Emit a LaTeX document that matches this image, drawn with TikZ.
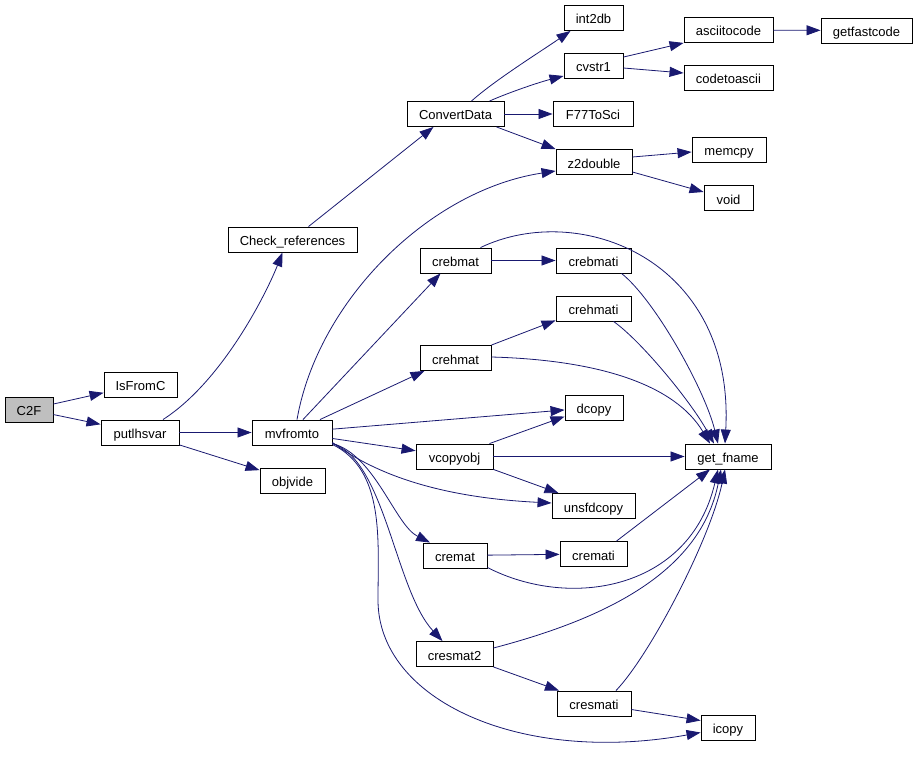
\documentclass[tikz,border=0pt]{standalone}
\usepackage{fontspec}
\setmainfont{Liberation Sans}
\usetikzlibrary{arrows.meta}
\definecolor{edgeblue}{HTML}{191970}

\begin{document}
\begin{tikzpicture}[
  x=1pt, y=-1pt,
  font=\fontsize{13}{15}\selectfont,
  box/.style={draw, line width=0.9pt, inner sep=0pt, minimum height=25pt, text height=12pt, text depth=0pt},
  rbox/.style={box, fill=black!25},
  arrow/.style={-{Triangle[length=14pt,width=10pt]}, color=edgeblue, line width=0.8pt}
]
\useasboundingbox (0,0) rectangle (917,762);

% Nodes (functions), left column
\node[rbox, minimum width=48] (C2F) at (29,409.5) {C2F};
\node[box, minimum width=73] (IsFromC) at (140.5,384.5) {IsFromC};
\node[box, minimum width=78] (putlhsvar) at (140,432.5) {putlhsvar};
\node[box, minimum width=129] (Check_references) at (292.5,239.5) {Check\_references};
\node[box, minimum width=80] (mvfromto) at (292,432.5) {mvfromto};
\node[box, minimum width=65] (objvide) at (292.5,480.5) {objvide};

% Nodes, middle column
\node[box, minimum width=97] (ConvertData) at (455.5,114) {ConvertData};
\node[box, minimum width=71] (crebmat) at (455.5,260.5) {crebmat};
\node[box, minimum width=71] (crehmat) at (455.5,358) {crehmat};
\node[box, minimum width=77] (vcopyobj) at (454.5,456.5) {vcopyobj};
\node[box, minimum width=64] (cremat) at (455,555.5) {cremat};
\node[box, minimum width=77] (cresmat2) at (454.5,654) {cresmat2};

% Nodes, callees
\node[box, minimum width=59] (int2db) at (593.5,18) {int2db};
\node[box, minimum width=59] (cvstr1) at (593.5,66) {cvstr1};
\node[box, minimum width=80] (F77ToSci) at (593,114) {F77ToSci};
\node[box, minimum width=76] (z2double) at (594,162) {z2double};
\node[box, minimum width=75] (crebmati) at (593.5,260.5) {crebmati};
\node[box, minimum width=75] (crehmati) at (593.5,308.5) {crehmati};
\node[box, minimum width=58] (dcopy) at (594,407.5) {dcopy};
\node[box, minimum width=83] (unsfdcopy) at (593.5,506) {unsfdcopy};
\node[box, minimum width=67] (cremati) at (593.5,554) {cremati};
\node[box, minimum width=74] (cresmati) at (594,703.5) {cresmati};

% Nodes, right column
\node[box, minimum width=89] (asciitocode) at (728.5,30) {asciitocode};
\node[box, minimum width=89] (codetoascii) at (728.5,78) {codetoascii};
\node[box, minimum width=74] (memcpy) at (729,150) {memcpy};
\node[box, minimum width=49] (void) at (728.5,198) {void};
\node[box, minimum width=86] (get_fname) at (728,456.5) {get\_fname};
\node[box, minimum width=54] (icopy) at (728,727.5) {icopy};
\node[box, minimum width=91] (getfastcode) at (866.5,30.5) {getfastcode};

% Calls of C2F and putlhsvar
\draw[arrow] (C2F) -- (IsFromC);
\draw[arrow] (C2F) -- (putlhsvar);
\draw[arrow] ([xshift=23]putlhsvar.north) .. controls (223,381) and (267,292) .. ([xshift=-10]Check_references.south);
\draw[arrow] (putlhsvar) -- (mvfromto);
\draw[arrow] (putlhsvar) -- (objvide);
\draw[arrow] ([xshift=16]Check_references.north) -- ([xshift=-22]ConvertData.south);

% ConvertData branch
\draw[arrow] ([xshift=16]ConvertData.north) .. controls (495,80) and (540,52) .. ([xshift=-23]int2db.south);
\draw[arrow] ([xshift=34]ConvertData.north) .. controls (510,92) and (540,82) .. ([yshift=-10]cvstr1.west);
\draw[arrow] (ConvertData) -- (F77ToSci);
\draw[arrow] ([xshift=41]ConvertData.south) -- (z2double.north west);
\draw[arrow] ([yshift=-4]cvstr1.north east) -- (asciitocode.south west);
\draw[arrow] ([yshift=-2]cvstr1.east) -- ([yshift=5]codetoascii.west);
\draw[arrow] (asciitocode) -- (getfastcode);
\draw[arrow] ([yshift=5]z2double.east) -- ([yshift=-2]memcpy.west);
\draw[arrow] ([yshift=-10]z2double.east) -- ([yshift=6]void.west);

% mvfromto branch
\draw[arrow] ([xshift=5]mvfromto.north) .. controls (318,300) and (430,190) .. ([yshift=-9]z2double.west);
\draw[arrow] ([xshift=11]mvfromto.north) -- ([xshift=-15]crebmat.south);
\draw[arrow] ([xshift=28]mvfromto.north) -- ([xshift=-31]crehmat.south);
\draw[arrow] (mvfromto) -- (dcopy);
\draw[arrow] (mvfromto) -- (vcopyobj);
\draw[arrow] ([yshift=-10]mvfromto.east) .. controls (370,470) and (430,497) .. ([yshift=3]unsfdcopy.west);
\draw[arrow] ([yshift=-11]mvfromto.east) .. controls (375,455) and (395,525) .. ([xshift=-25]cremat.north);
\draw[arrow] ([yshift=-11]mvfromto.east) .. controls (385,460) and (395,590) .. ([xshift=-12]cresmat2.north);
\draw[arrow] ([yshift=-12]mvfromto.east) .. controls (385,470) and (378,540) .. (378,600)
  .. controls (378,700) and (520,765) .. ([yshift=-5]icopy.west);

% Into get_fname and the copy routines
\draw[arrow] (crebmat) -- (crebmati);
\draw[arrow] ([xshift=25]crebmat.north) .. controls (580,200) and (735,260) .. ([xshift=-3]get_fname.north);
\draw[arrow] ([xshift=28]crebmati.south) .. controls (655,300) and (705,390) .. ([xshift=-10]get_fname.north);
\draw[arrow] (crehmat.north east) -- ([yshift=1]crehmati.south west);
\draw[arrow] ([yshift=1]crehmat.east) .. controls (600,360) and (675,385) .. ([xshift=-18]get_fname.north);
\draw[arrow] ([xshift=20]crehmati.south) .. controls (640,340) and (690,400) .. ([xshift=-14]get_fname.north);
\draw[arrow] ([xshift=35]vcopyobj.north) -- ([yshift=-9]dcopy.west);
\draw[arrow] (vcopyobj) -- (get_fname);
\draw[arrow] (vcopyobj.south east) -- ([xshift=-35]unsfdcopy.north);
\draw[arrow] (cremat) -- (cremati);
\draw[arrow] ([yshift=-12]cremat.east) .. controls (570,610) and (690,590) .. ([xshift=-10]get_fname.south);
\draw[arrow] ([xshift=23]cremati.north) -- ([xshift=-18]get_fname.south);
\draw[arrow] ([yshift=6]cresmat2.east) .. controls (600,620) and (700,575) .. ([xshift=-7]get_fname.south);
\draw[arrow] (cresmat2.south east) -- ([xshift=-35]cresmati.north);
\draw[arrow] ([xshift=22]cresmati.north) .. controls (650,655) and (710,540) .. ([xshift=-3]get_fname.south);
\draw[arrow] ([yshift=-6]cresmati.east) -- ([yshift=7]icopy.west);

\end{tikzpicture}
\end{document}
